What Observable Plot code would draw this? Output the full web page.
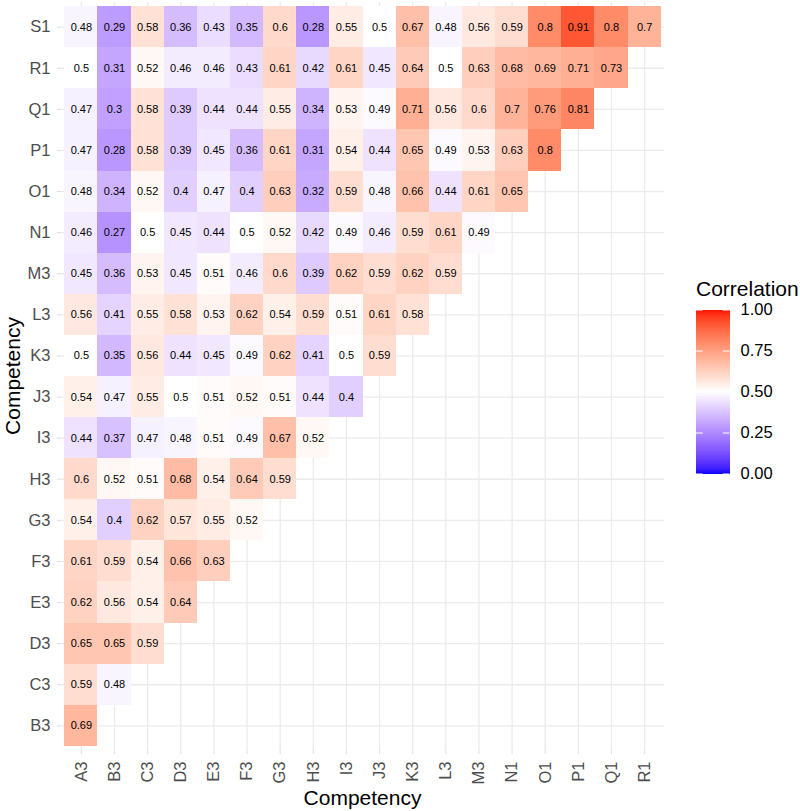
<!DOCTYPE html>
<html><head><meta charset="utf-8">
<script src="https://cdn.jsdelivr.net/npm/d3@7"></script>
<script src="https://cdn.jsdelivr.net/npm/@observablehq/plot@0.6"></script>
<style>
body{margin:0;background:#fff;font-family:"Liberation Sans",Arial,sans-serif;}
#wrap{position:relative;width:800px;height:811px;overflow:hidden;}
#wrap svg{position:absolute;}
.ttl{position:absolute;font-size:21px;line-height:21px;color:#000;white-space:nowrap;}
</style></head><body><div id="wrap"></div>
<script>
// ---- data ----
const colCats = ["A3","B3","C3","D3","E3","F3","G3","H3","I3","J3","K3","L3","M3","N1","O1","P1","Q1","R1"];
const rowCats = ["S1","R1","Q1","P1","O1","N1","M3","L3","K3","J3","I3","H3","G3","F3","E3","D3","C3","B3"]; // top to bottom

const rowS1 = [0.48,0.29,0.58,0.36,0.43,0.35,0.6,0.28,0.55,0.5,0.67,0.48,0.56,0.59,0.8,0.91,0.8,0.7];
const rowR1 = [0.5,0.31,0.52,0.46,0.46,0.43,0.61,0.42,0.61,0.45,0.64,0.5,0.63,0.68,0.69,0.71,0.73];
const rowQ1 = [0.47,0.3,0.58,0.39,0.44,0.44,0.55,0.34,0.53,0.49,0.71,0.56,0.6,0.7,0.76,0.81];
const rowP1 = [0.47,0.28,0.58,0.39,0.45,0.36,0.61,0.31,0.54,0.44,0.65,0.49,0.53,0.63,0.8];
const rowO1 = [0.48,0.34,0.52,0.4,0.47,0.4,0.63,0.32,0.59,0.48,0.66,0.44,0.61,0.65];
const rowN1 = [0.46,0.27,0.5,0.45,0.44,0.5,0.52,0.42,0.49,0.46,0.59,0.61,0.49];
const rowM3 = [0.45,0.36,0.53,0.45,0.51,0.46,0.6,0.39,0.62,0.59,0.62,0.59];
const rowL3 = [0.56,0.41,0.55,0.58,0.53,0.62,0.54,0.59,0.51,0.61,0.58];
const rowK3 = [0.5,0.35,0.56,0.44,0.45,0.49,0.62,0.41,0.5,0.59];
const rowJ3 = [0.54,0.47,0.55,0.5,0.51,0.52,0.51,0.44,0.4];
const rowI3 = [0.44,0.37,0.47,0.48,0.51,0.49,0.67,0.52];
const rowH3 = [0.6,0.52,0.51,0.68,0.54,0.64,0.59];
const rowG3 = [0.54,0.4,0.62,0.57,0.55,0.52];
const rowF3 = [0.61,0.59,0.54,0.66,0.63];
const rowE3 = [0.62,0.56,0.54,0.64];
const rowD3 = [0.65,0.65,0.59];
const rowC3 = [0.59,0.48];
const rowB3 = [0.69];
const rowValues = [rowS1,rowR1,rowQ1,rowP1,rowO1,rowN1,rowM3,rowL3,rowK3,rowJ3,rowI3,rowH3,rowG3,rowF3,rowE3,rowD3,rowC3,rowB3];

const legendTicks = [0, 0.25, 0.5, 0.75, 1];
const xTitle = "Competency";
const yTitle = "Competency";
const legendTitle = "Correlation";

// ---- build table ----
const cells = [];
rowCats.forEach((r, i) => rowValues[i].forEach((v, j) => cells.push({x: colCats[j], y: r, v})));

const font = '"Liberation Sans", Arial, sans-serif';
const colorOpts = {type: "linear", domain: [0, 0.5, 1], range: ["blue", "white", "red"], interpolate: "lab"};

const main = Plot.plot({
  width: 800, height: 811,
  marginTop: 2, marginBottom: 61, marginLeft: 61, marginRight: 136,
  style: {fontFamily: font, background: "transparent", overflow: "visible"},
  x: {type: "band", domain: colCats, paddingInner: 0, paddingOuter: 0.1, round: false, label: null},
  y: {type: "band", domain: rowCats, paddingInner: 0, paddingOuter: 0.1, round: false, label: null},
  color: colorOpts,
  marks: [
    Plot.gridX({stroke: "#EBEBEB", strokeOpacity: 1, strokeWidth: 1.3}),
    Plot.gridY({stroke: "#EBEBEB", strokeOpacity: 1, strokeWidth: 1.3}),
    Plot.cell(cells, {x: "x", y: "y", fill: "v", inset: 0, shapeRendering: "crispEdges"}),
    Plot.text(cells, {x: "x", y: "y", text: d => String(d.v), fontSize: 11, fill: "black"}),
    Plot.axisX({anchor: "bottom", tickSize: 4, tickPadding: 7, tickRotate: -90, stroke: "#DDDDDD", fill: "#4D4D4D", fontSize: 16.5, label: null}),
    Plot.axisY({anchor: "left", tickSize: 4, tickPadding: 7, stroke: "#DDDDDD", fill: "#4D4D4D", fontSize: 16.5, label: null})
  ]
});
main.style.left = "0px"; main.style.top = "0px";

// ---- legend (colour bar) ----
const step = 0.005;
const ramp = d3.range(0, 1, step);
const legend = Plot.plot({
  width: 120, height: 230, margin: 0,
  style: {fontFamily: font, background: "transparent", overflow: "visible"},
  x: {domain: [0, 1], range: [16, 49.5], axis: null},
  y: {domain: [0, 1], range: [473.5 - 270, 309.5 - 270], axis: null},
  color: colorOpts,
  marks: [
    Plot.rect(ramp, {x1: 0, x2: 1, y1: d => d, y2: d => Math.min(1, d + step + 0.002), fill: d => d + step / 2, shapeRendering: "crispEdges"}),
    Plot.ruleY(legendTicks, {y: d => d, x1: 0, x2: 0.2, stroke: "white", strokeWidth: 1}),
    Plot.ruleY(legendTicks, {y: d => d, x1: 0.8, x2: 1, stroke: "white", strokeWidth: 1}),
    Plot.text(legendTicks, {x: 1, y: d => d, dx: 10.5, textAnchor: "start", text: d => d3.format(".2f")(d), fontSize: 16.5, fill: "black"})
  ]
});
legend.style.left = "680px"; legend.style.top = "270px";

const wrap = document.getElementById("wrap");
wrap.appendChild(main);
wrap.appendChild(legend);

function addTitle(txt, css) {
  const d = document.createElement("div");
  d.className = "ttl";
  d.textContent = txt;
  Object.assign(d.style, css);
  wrap.appendChild(d);
}
addTitle(xTitle, {left: "362.5px", top: "787px", transform: "translateX(-50%)"});
addTitle(yTitle, {left: "12px", top: "376px", transform: "translate(-50%,-50%) rotate(-90deg)"});
addTitle(legendTitle, {left: "696px", top: "278px"});
</script></body></html>
